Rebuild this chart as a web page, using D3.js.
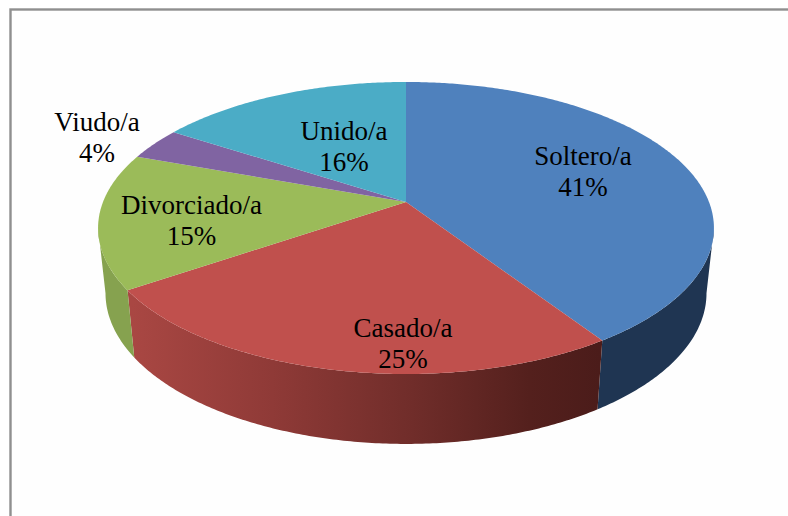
<!DOCTYPE html>
<html>
<head>
<meta charset="utf-8">
<script src="https://cdnjs.cloudflare.com/ajax/libs/d3/7.8.5/d3.min.js"></script>
<style>
html,body{margin:0;padding:0;background:#fff;overflow:hidden}
svg{display:block}
text{font-family:"Liberation Serif","Times New Roman",serif;fill:#000}
</style>
</head>
<body>
<svg id="c" width="788" height="516"></svg>
<script>
// Data
const categories = ["Soltero/a","Casado/a","Divorciado/a","Viudo/a","Unido/a"];
const seriesValues = [40.7,24.8,15.0,3.6,15.9];

// Styling and layout, separate from the data
const topColors = ["#4f81bd","#c0504d","#9bbb59","#8064a2","#4bacc6"];
const labelAnchors = [[583,165],[403,337],[191.5,214],[97,131],[344,140]];
const fontSize = 27, lineGap = 31;

const svg = d3.select("#c");
const W = 788, H = 516;

svg.append("rect").attr("width",W).attr("height",H).attr("fill","#fff");
svg.append("rect").attr("x",10.5).attr("y",9.5).attr("width",W+20).attr("height",H+20)
  .attr("fill","#fefefe").attr("stroke","#8f8f8f").attr("stroke-width",2.4);

// Perspective view of the pie disc
const cx = 406, p = 0.178;
const topPlane = {sx:303, sy:141.4, y0:202};
const botPlane = {sx:295.7, sy:146, y0:266.3};
function project(plane,a){
  const x = Math.sin(a), y = Math.cos(a), w = 1 + p*y;
  return [cx + plane.sx*x/w, plane.y0 - plane.sy*y/w];
}
// Angles where the disc's outline turns from front to back
const frontStart = Math.acos(-p), frontEnd = 2*Math.PI - frontStart;

const pie = d3.pie().sort(null).value(d=>d);
const arcs = pie(seriesValues);
const line = d3.line();
const defs = svg.append("defs");

function edge(plane,a0,a1){
  const n = Math.max(2,Math.ceil((a1-a0)/0.01));
  return d3.range(n+1).map(i=>project(plane,a0+(a1-a0)*i/n));
}

// Wall shading: one gradient per slice, running left to right
const wallStops = [
  [["0","#1f3552"],["1","#1f3552"]],
  [["0","#a94743"],["0.3","#8f3a37"],["0.6","#702d2a"],["0.85","#54201d"],["1","#4b1c1a"]],
  [["0","#86a24f"],["1","#86a24f"]],
  [["0","#4d3c61"],["1","#4d3c61"]],
  [["0","#2d6777"],["1","#2d6777"]]
];
arcs.forEach((d,i)=>{
  const g = defs.append("linearGradient").attr("id","wall"+i)
    .attr("gradientUnits","userSpaceOnUse")
    .attr("x1",132).attr("x2",600).attr("y1",0).attr("y2",0);
  wallStops[i].forEach(s=>g.append("stop").attr("offset",s[0]).attr("stop-color",s[1]));
});

function wallPath(d){
  const a0 = Math.max(d.startAngle,frontStart), a1 = Math.min(d.endAngle,frontEnd);
  if(a1<=a0) return null;
  return line(edge(topPlane,a0,a1).concat(edge(botPlane,a0,a1).reverse()))+"Z";
}
svg.append("g").selectAll("path").data(arcs).join("path")
  .attr("d",wallPath)
  .attr("fill",(d,i)=>`url(#wall${i})`);

svg.append("g").selectAll("path").data(arcs).join("path")
  .attr("d",d=>line([[cx,topPlane.y0]].concat(edge(topPlane,d.startAngle,d.endAngle)))+"Z")
  .attr("fill",(d,i)=>topColors[i]);

const labels = svg.append("g").selectAll("text").data(arcs).join("text")
  .attr("text-anchor","middle").attr("font-size",fontSize);
labels.append("tspan").attr("x",(d,i)=>labelAnchors[i][0]).attr("y",(d,i)=>labelAnchors[i][1])
  .text((d,i)=>categories[i]);
labels.append("tspan").attr("x",(d,i)=>labelAnchors[i][0]).attr("y",(d,i)=>labelAnchors[i][1]+lineGap)
  .text(d=>Math.round(d.value)+"%");
</script>
</body>
</html>
